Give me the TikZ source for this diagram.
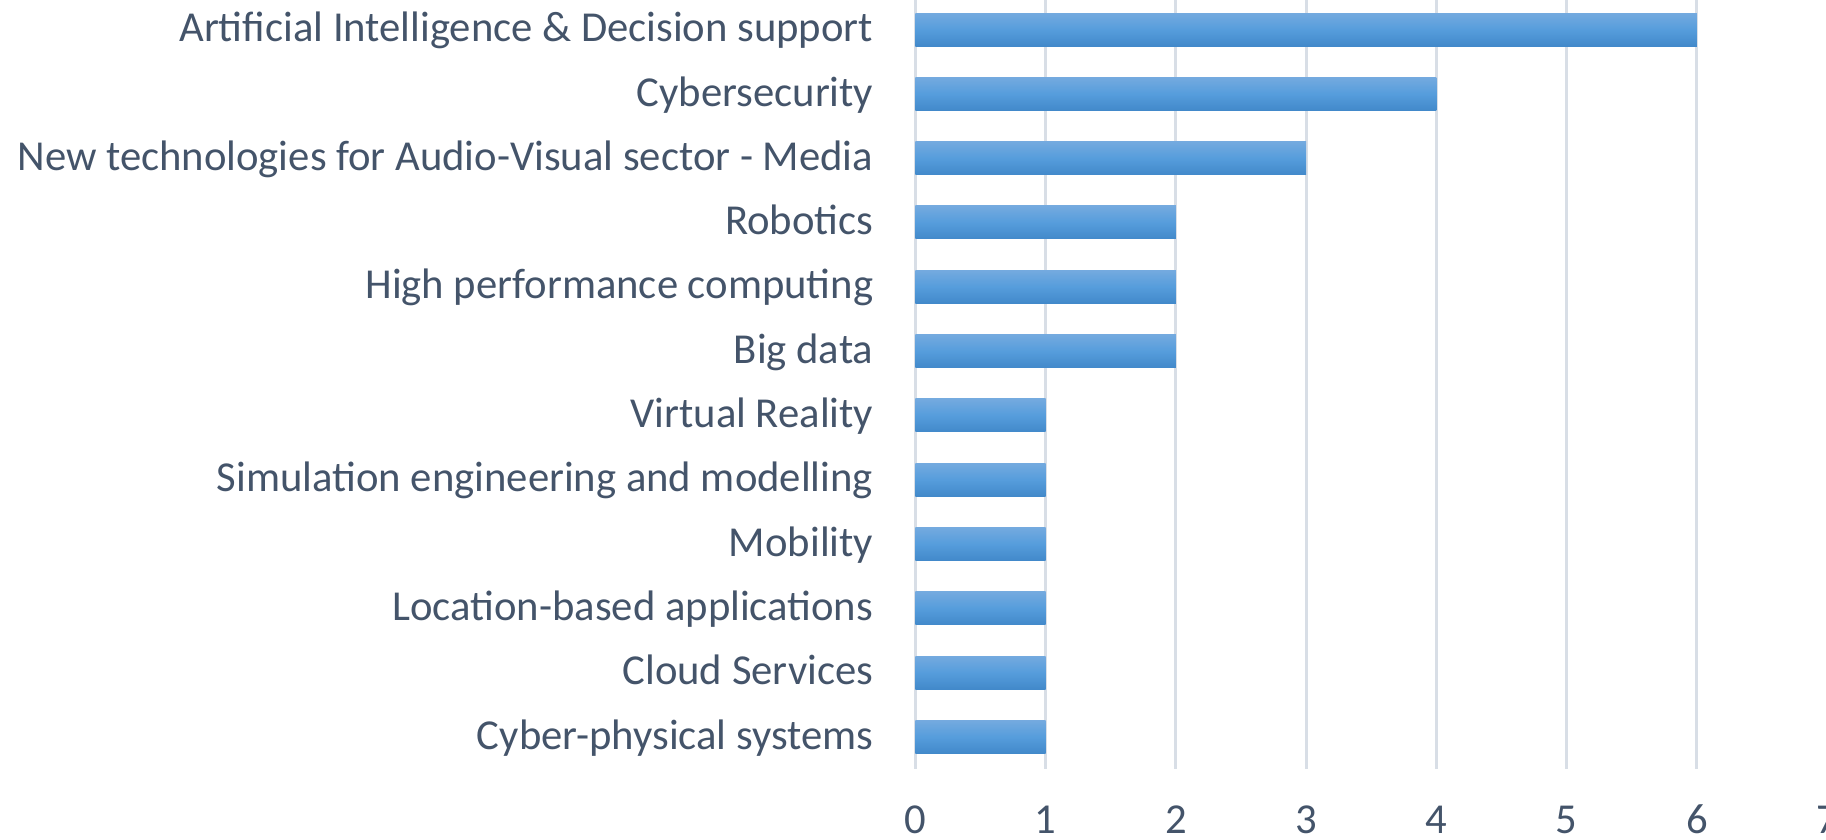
\documentclass[tikz,border=0pt]{standalone}
\usepackage{fontspec}
\setmainfont{Carlito}
\definecolor{txtSlate}{RGB}{68,84,106}
\definecolor{gridGray}{RGB}{216,222,230}
\definecolor{barTop}{RGB}{116,170,223}
\definecolor{barMid}{RGB}{86,157,220}
\definecolor{barBot}{RGB}{66,137,202}
\begin{document}
\begin{tikzpicture}[x=0.75pt,y=0.75pt,yscale=-1,xscale=1,
  gridline/.style={draw=gridGray,line width=2.25pt},
  bar/.style={top color=barTop,bottom color=barBot,middle color=barMid,draw=none},
  lbl/.style={inner sep=0pt,text=txtSlate,font=\fontsize{32}{38}\selectfont}]
%set diagram size to the reference
\useasboundingbox (0,0) rectangle (1826,839);

%Straight Lines: value grid
\draw [gridline]  (915.3,-3) -- (915.3,769) ;
\draw [gridline]  (1045.55,-3) -- (1045.55,769) ;
\draw [gridline]  (1175.8,-3) -- (1175.8,769) ;
\draw [gridline]  (1306.05,-3) -- (1306.05,769) ;
\draw [gridline]  (1436.3,-3) -- (1436.3,769) ;
\draw [gridline]  (1566.55,-3) -- (1566.55,769) ;
\draw [gridline]  (1696.8,-3) -- (1696.8,769) ;
\draw [gridline]  (1827.05,-3) -- (1827.05,769) ;

%Shape: Rectangle bars
\path [bar] (915.3,13) rectangle (1696.8,46) ;
\path [bar] (915.3,77.3) rectangle (1436.3,110.3) ;
\path [bar] (915.3,141.6) rectangle (1306.05,174.6) ;
\path [bar] (915.3,205.9) rectangle (1175.8,238.9) ;
\path [bar] (915.3,270.2) rectangle (1175.8,303.2) ;
\path [bar] (915.3,334.5) rectangle (1175.8,367.5) ;
\path [bar] (915.3,398.8) rectangle (1045.55,431.8) ;
\path [bar] (915.3,463.1) rectangle (1045.55,496.1) ;
\path [bar] (915.3,527.4) rectangle (1045.55,560.4) ;
\path [bar] (915.3,591.7) rectangle (1045.55,624.7) ;
\path [bar] (915.3,656) rectangle (1045.55,689) ;
\path [bar] (915.3,720.3) rectangle (1045.55,753.3) ;

% Text Node
\draw (873.5,41.7) node (ai) [anchor=base east][lbl] {Artificial Intelligence \& Decision support};
% Text Node
\draw (873.5,106) node (cyber) [anchor=base east][lbl] {Cybersecurity};
% Text Node
\draw (873.5,170.3) node (media) [anchor=base east][lbl] {New technologies for Audio-Visual sector - Media};
% Text Node
\draw (873.5,234.6) node (robot) [anchor=base east][lbl] {Robotics};
% Text Node
\draw (873.5,298.9) node (hpc) [anchor=base east][lbl] {High performance computing};
% Text Node
\draw (873.5,363.2) node (bigdata) [anchor=base east][lbl] {Big data};
% Text Node
\draw (873.5,427.5) node (vr) [anchor=base east][lbl] {Virtual Reality};
% Text Node
\draw (873.5,491.8) node (simul) [anchor=base east][lbl] {Simulation engineering and modelling};
% Text Node
\draw (873.5,556.1) node (mobil) [anchor=base east][lbl] {Mobility};
% Text Node
\draw (873.5,620.4) node (loc) [anchor=base east][lbl] {Location-based applications};
% Text Node
\draw (873.5,684.7) node (cloud) [anchor=base east][lbl] {Cloud Services};
% Text Node
\draw (873.5,749) node (cps) [anchor=base east][lbl] {Cyber-physical systems};

% Text Node: axis ticks
\draw (915.3,833) node (t0) [anchor=base][lbl] {0};
\draw (1045.55,833) node (t1) [anchor=base][lbl] {1};
\draw (1175.8,833) node (t2) [anchor=base][lbl] {2};
\draw (1306.05,833) node (t3) [anchor=base][lbl] {3};
\draw (1436.3,833) node (t4) [anchor=base][lbl] {4};
\draw (1566.55,833) node (t5) [anchor=base][lbl] {5};
\draw (1696.8,833) node (t6) [anchor=base][lbl] {6};
\draw (1827.05,833) node (t7) [anchor=base][lbl] {7};

\end{tikzpicture}
\end{document}
